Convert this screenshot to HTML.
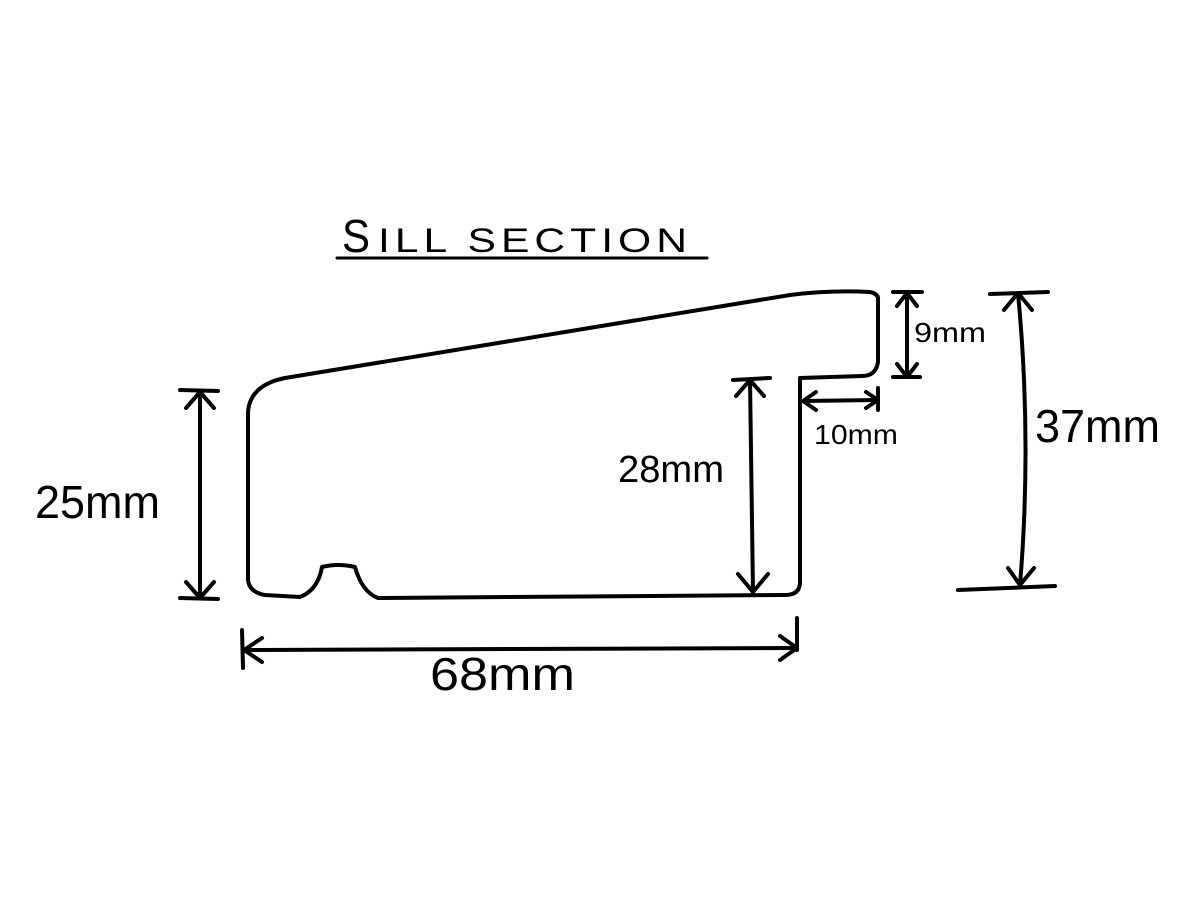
<!DOCTYPE html>
<html><head><style>
html,body{margin:0;padding:0;background:#fff;}
svg{display:block;}
text{font-family:"Liberation Sans",sans-serif;fill:#000;}
</style></head><body>
<svg width="1200" height="900" viewBox="0 0 1200 900" xmlns="http://www.w3.org/2000/svg">
<rect width="1200" height="900" fill="#fff"/>
<g fill="none" stroke="#000" stroke-width="4" stroke-linecap="round" stroke-linejoin="round">
<path d="M248,412 Q250,385 285,378 L790,295 Q830,290 870,292 Q879,294 878,300 L878,362 Q876,376 862,376 L800,378 L800,582 Q800,595 785,595 L378,598 Q362,592 355,567 Q338,563 322,567 Q318,590 300,597 L265,595 Q248,592 248,578 Z"/>
<line x1="200" y1="392" x2="200" y2="598"/>
<line x1="180" y1="390" x2="218" y2="391"/>
<line x1="180" y1="598" x2="218" y2="599"/>
<path d="M186,408 L200,392 L214,408 M186,582 L200,598 L214,582"/>
<line x1="244" y1="650" x2="797" y2="648"/>
<line x1="242" y1="630" x2="243" y2="668"/>
<line x1="797" y1="618" x2="797" y2="650"/>
<path d="M262,638 L244,650 L262,662 M780,636 L797,648 L780,660"/>
<line x1="750" y1="380" x2="753" y2="592"/>
<line x1="733" y1="380" x2="770" y2="378"/>
<path d="M736,396 L750,380 L764,396 M738,574 L753,592 L768,574"/>
<line x1="907" y1="293" x2="907" y2="377"/>
<line x1="893" y1="292" x2="922" y2="292"/>
<line x1="893" y1="377" x2="920" y2="377"/>
<path d="M897,306 L907,293 L917,306 M897,364 L907,377 L917,364"/>
<line x1="803" y1="401" x2="878" y2="400"/>
<line x1="878" y1="388" x2="878" y2="410"/>
<path d="M816,392 L803,401 L816,410 M866,392 L878,400 L866,408"/>
<path d="M1018,293 Q1032,440 1020,585"/>
<line x1="990" y1="294" x2="1048" y2="292"/>
<line x1="958" y1="590" x2="1055" y2="586"/>
<path d="M1004,310 L1018,293 L1032,310 M1008,568 L1020,585 L1034,568"/>
<line x1="337" y1="258" x2="707" y2="258" stroke-width="3"/>
</g>
<text x="342" y="252" font-size="46" textLength="28" lengthAdjust="spacingAndGlyphs">S</text>
<text x="378" y="252" font-size="34" letter-spacing="4" textLength="314" lengthAdjust="spacingAndGlyphs">ILL SECTION</text>
<text x="35" y="518" font-size="46" textLength="125" lengthAdjust="spacingAndGlyphs">25mm</text>
<text x="430" y="690" font-size="46" textLength="145" lengthAdjust="spacingAndGlyphs">68mm</text>
<text x="618" y="482" font-size="38" textLength="106" lengthAdjust="spacingAndGlyphs">28mm</text>
<text x="914" y="342" font-size="28" textLength="72" lengthAdjust="spacingAndGlyphs">9mm</text>
<text x="814" y="444" font-size="28" textLength="84" lengthAdjust="spacingAndGlyphs">10mm</text>
<text x="1035" y="442" font-size="46" textLength="125" lengthAdjust="spacingAndGlyphs">37mm</text>
</svg>
</body></html>
